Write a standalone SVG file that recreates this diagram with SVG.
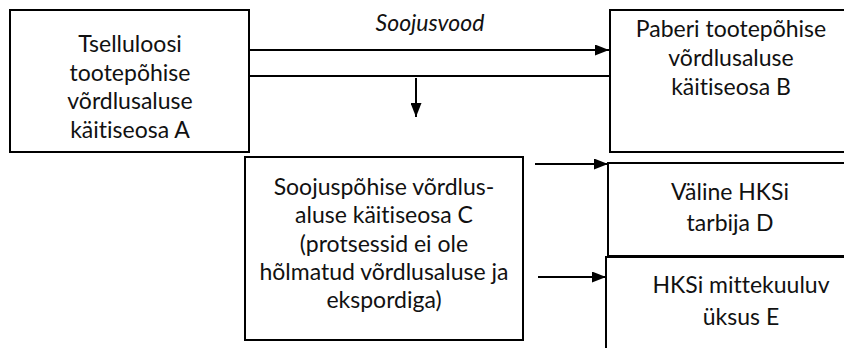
<svg xmlns="http://www.w3.org/2000/svg" width="844" height="348" viewBox="0 0 844 348">
  <defs>
    <marker id="arr" viewBox="0 0 14 11" refX="14" refY="5.5" markerWidth="14" markerHeight="11" markerUnits="userSpaceOnUse" orient="auto">
      <path d="M0,0 L14,5.5 L0,11 Z" fill="#000"/>
    </marker>
    <style>
      .box { fill: #fff; stroke: #000; stroke-width: 2; }
      .lbl { font-family: Lato, "Liberation Sans", sans-serif; font-size: 23px; fill: #111; text-anchor: middle; font-variant-ligatures: none; font-feature-settings: "liga" 0, "clig" 0; }
      .it { font-style: italic; }
      .con { stroke: #000; stroke-width: 2; fill: none; }
    </style>
  </defs>
  <rect width="844" height="348" fill="#fff"/>

  <g id="connectors">
    <line class="con" x1="249" y1="50" x2="609" y2="50" marker-end="url(#arr)"/>
    <line class="con" x1="249" y1="76" x2="610" y2="76"/>
    <line class="con" x1="416" y1="78" x2="416" y2="117" marker-end="url(#arr)"/>
    <line class="con" x1="535" y1="164" x2="608" y2="164" marker-end="url(#arr)"/>
    <line class="con" x1="538" y1="277" x2="606" y2="277" marker-end="url(#arr)"/>
    <text class="lbl it" x="430" y="31">Soojusvood</text>
  </g>

  <g id="nodeA">
    <rect class="box" x="10" y="10" width="239" height="142"/>
    <text class="lbl" x="130" y="52">Tselluloosi</text>
    <text class="lbl" x="130" y="81">tootepõhise</text>
    <text class="lbl" x="130" y="109">võrdlusaluse</text>
    <text class="lbl" x="130" y="138">käitiseosa A</text>
  </g>

  <g id="nodeB">
    <rect class="box" x="610" y="10" width="250" height="142"/>
    <text class="lbl" x="731" y="37">Paberi tootepõhise</text>
    <text class="lbl" x="731" y="66">võrdlusaluse</text>
    <text class="lbl" x="731" y="95">käitiseosa B</text>
  </g>

  <g id="nodeC">
    <rect class="box" x="245" y="157" width="278" height="183"/>
    <text class="lbl" x="384" y="195">Soojuspõhise võrdlus-</text>
    <text class="lbl" x="384" y="223">aluse käitiseosa C</text>
    <text class="lbl" x="384" y="252">(protsessid ei ole</text>
    <text class="lbl" x="384" y="280">hõlmatud võrdlusaluse ja</text>
    <text class="lbl" x="384" y="308">ekspordiga)</text>
  </g>

  <g id="nodeD">
    <rect class="box" x="608" y="163" width="250" height="93"/>
    <text class="lbl" x="730" y="200">Väline HKSi</text>
    <text class="lbl" x="730" y="231">tarbija D</text>
  </g>

  <g id="nodeE">
    <rect class="box" x="606" y="257" width="250" height="100"/>
    <text class="lbl" x="741" y="293">HKSi mittekuuluv</text>
    <text class="lbl" x="741" y="325">üksus E</text>
  </g>
</svg>
